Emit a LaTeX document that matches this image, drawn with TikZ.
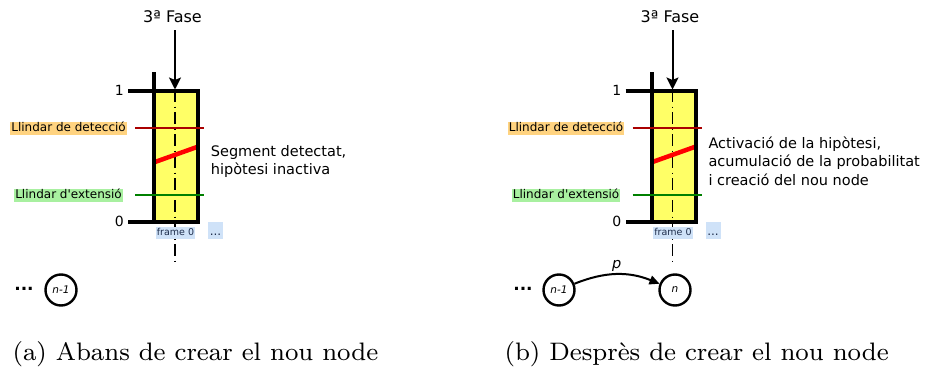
\documentclass[tikz,border=0pt]{standalone}
\usepackage{fontspec}
\newfontfamily\dv{DejaVu Sans}
\usetikzlibrary{arrows.meta}
\definecolor{boxyellow}{RGB}{255,255,102}
\definecolor{detorange}{RGB}{255,211,128}
\definecolor{extgreen}{RGB}{168,240,160}
\definecolor{framebg}{RGB}{207,226,248}
\definecolor{frametext}{RGB}{30,45,75}
\definecolor{detline}{RGB}{170,0,0}
\definecolor{extline}{RGB}{0,128,0}
\definecolor{segred}{RGB}{255,0,0}
\tikzset{
  frameline/.style={line width=4pt, line cap=butt, line join=miter},
  dashdotline/.style={line width=1.5pt, dash pattern=on 12pt off 4.5pt on 1.5pt off 4pt},
  thresh/.style={line width=2pt},
  segline/.style={line width=4.5pt, segred},
  phasearrow/.style={line width=2pt, -{Stealth[length=12pt,width=12pt,inset=2.5pt]}},
  title/.style={font={\dv\fontsize{16}{19}\selectfont}, inner sep=0pt},
  tick/.style={font={\dv\fontsize{14}{17}\selectfont}, inner sep=0pt, anchor=east},
  lbl/.style={font={\dv\fontsize{12}{14}\selectfont}, inner xsep=1pt, inner ysep=0.5pt, text height=9.2pt, text depth=3pt},
  annot/.style={font={\dv\fontsize{14.5}{18.3}\selectfont}, inner sep=0pt, align=left, anchor=north west},
  framelbl/.style={font={\dv\fontsize{9.5}{11}\selectfont}, text=frametext, fill=framebg, inner xsep=1pt, inner ysep=0pt, text height=7.5pt, text depth=2.5pt, minimum height=12pt},
  morelbl/.style={font={\dv\fontsize{12}{14}\selectfont}, text=frametext, fill=framebg, inner sep=0pt, text height=10pt, text depth=0pt, minimum width=15pt, minimum height=17pt},
  statenode/.style={draw, circle, line width=2.4pt, minimum size=31pt, inner sep=0pt, font={\dv\itshape\fontsize{10.5}{12}\selectfont}},
  dotsnode/.style={font={\dv\bfseries\fontsize{17}{20}\selectfont}, inner sep=0pt},
  nodearrow/.style={line width=2pt, -{Triangle[length=10pt,width=9pt]}},
  problbl/.style={font={\dv\itshape\fontsize{14.5}{17}\selectfont}, inner sep=0pt, anchor=base},
  caption/.style={font={\fontsize{8}{9.6}\selectfont}, scale=3.16, inner sep=0pt, anchor=base west}
}
\newcommand\fasepanel[3]{%
\begin{scope}[xshift=#2]
  \fill[boxyellow] (154,91) rectangle (198,222);
  \draw[dashdotline] (175,90) -- (175,262);
  \draw[segline] (155,162) -- (197,147);
  \draw[frameline] (128,91) -- (198,91) -- (198,222) -- (128,222);
  \draw[frameline] (154,72) -- (154,224);
  \draw[thresh, detline] (135,127.7) -- (204,127.7);
  \draw[thresh, extline] (135,195) -- (204,195);
  \node[title] (#1fase) at (172.5,16.5) {3ª Fase};
  \coordinate (#1astart) at (175,30);
  \coordinate (#1atip) at (175,89.5);
  \draw[phasearrow] (#1astart) -- (#1atip);
  \node[tick] (#1one) at (124,90.5) {1};
  \node[tick] (#1zero) at (124,221.5) {0};
  \node[lbl, fill=detorange, anchor=east] (#1det) at (127,128.5) {Llindar de detecció};
  \node[lbl, fill=extgreen, anchor=east] (#1ext) at (123,195.5) {Llindar d'extensió};
  \node[framelbl] (#1frame) at (175.5,233) {frame 0};
  \node[morelbl] (#1more) at (215.5,230.5) {...};
  #3
\end{scope}}
\begin{document}
\begin{tikzpicture}[x=1pt,y=-1pt]
\useasboundingbox (0,0) rectangle (927,372);
\fasepanel{a}{0pt}{%
  \node[annot] (aannot) at (210.7,145) {Segment detectat,\\hipòtesi inactiva};
  \node[dotsnode] (adots) at (24,289) {...};
  \node[statenode] (anm1) at (61,290) {n-1};
}
\fasepanel{b}{497.5pt}{%
  \node[annot] (bannot) at (210.8,136.8) {Activació de la hipòtesi,\\acumulació de la probabilitat\\i creació del nou node};
  \node[dotsnode] (bdots) at (25.5,289) {...};
  \node[statenode] (bnm1) at (61.5,290) {n-1};
  \node[statenode] (bn) at (177.5,290) {n};
  \draw[nodearrow] (bnm1) to[bend left=22] (bn);
  \node[problbl] (bp) at (119.3,268.6) {p};
}
\node[caption] (capa) at (12,360) {(a) Abans de crear el nou node};
\node[caption] (capb) at (504,360) {(b) Desprès de crear el nou node};
\end{tikzpicture}
\end{document}
